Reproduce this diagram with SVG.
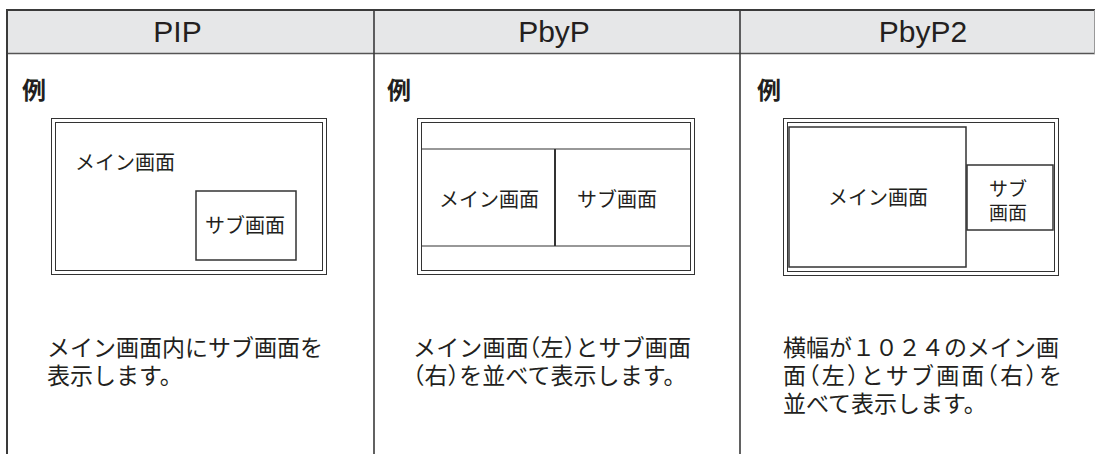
<svg xmlns="http://www.w3.org/2000/svg" width="1095" height="454" viewBox="0 0 1095 454">
<style>
.hdr{fill:#e6e7e8}
.tl{stroke:#3a3a3a;stroke-width:1.6;fill:none}
.ht{font-family:"Liberation Sans",Arial,sans-serif;font-size:30px;fill:#231f20;text-anchor:middle}
.ex{font-family:"Noto Sans CJK JP",sans-serif;font-size:24px;font-weight:bold;fill:#231f20}
.fr{stroke:#333;stroke-width:1;fill:none}
.sc{stroke:#333;stroke-width:1.5;fill:none}
.lb{font-family:"Noto Sans CJK JP",sans-serif;font-size:20px;fill:#231f20}
.ds{font-family:"Noto Sans CJK JP",sans-serif;font-size:23px;fill:#231f20;font-feature-settings:"halt" 0}
.p{font-feature-settings:"halt" 1}
.mid{text-anchor:middle}
</style>
<rect class="hdr" x="7" y="10" width="1088" height="43.5"/>
<g id="table-lines">
<line class="tl" x1="7" y1="10" x2="1095" y2="10" style="stroke-width:2"/>
<line class="tl" x1="7" y1="53.5" x2="1095" y2="53.5" style="stroke:#555"/>
<line class="tl" x1="7" y1="9" x2="7" y2="454" style="stroke-width:2"/>
<line class="tl" x1="374" y1="10" x2="374" y2="454"/>
<line class="tl" x1="740" y1="10" x2="740" y2="454"/>
<line x1="1094.5" y1="10" x2="1094.5" y2="54" stroke="#999" stroke-width="1"/>
</g>
<g id="col-pip">
<text class="ht" x="177.5" y="42">PIP</text>
<text class="ex" x="22" y="99">例</text>
<rect class="fr" x="51.5" y="118.5" width="275" height="156"/>
<rect class="fr" x="55.5" y="122.5" width="267" height="148"/>
<text class="lb" x="75" y="170">メイン画面</text>
<rect class="sc" x="196" y="191" width="100" height="69"/>
<text class="lb" x="205" y="233">サブ画面</text>
<text class="ds"><tspan x="47" y="356">メイン画面内にサブ画面を</tspan><tspan x="47" y="384">表示します。</tspan></text>
</g>
<g id="col-pbyp">
<text class="ht" x="554" y="42">PbyP</text>
<text class="ex" x="387" y="99">例</text>
<rect class="fr" x="417.5" y="118.5" width="277" height="156"/>
<rect class="fr" x="421.5" y="122.5" width="269" height="148"/>
<line class="sc" x1="421.5" y1="149" x2="690.5" y2="149" style="stroke-width:1.2"/>
<line class="sc" x1="421.5" y1="246" x2="690.5" y2="246" style="stroke-width:1.2"/>
<line class="sc" x1="555" y1="149" x2="555" y2="246" style="stroke-width:2"/>
<text class="lb mid" x="489" y="207">メイン画面</text>
<text class="lb mid" x="617" y="207">サブ画面</text>
<text class="ds p"><tspan x="413" y="356" textLength="278" lengthAdjust="spacing">メイン画面（左）とサブ画面</tspan><tspan x="413" y="384" textLength="262" lengthAdjust="spacing">（右）を並べて表示します。</tspan></text>
</g>
<g id="col-pbyp2">
<text class="ht" x="923" y="42">PbyP2</text>
<text class="ex" x="757" y="99">例</text>
<rect class="fr" x="783.5" y="118.5" width="275" height="157"/>
<rect class="fr" x="787.5" y="122.5" width="267" height="149"/>
<rect class="sc" x="789" y="127" width="177" height="140"/>
<rect class="sc" x="967" y="165" width="86" height="65"/>
<text class="lb mid" x="878" y="205">メイン画面</text>
<text class="lb mid" style="font-size:19px"><tspan x="1008" y="196">サブ</tspan><tspan x="1008" y="220">画面</tspan></text>
<text class="ds p"><tspan x="783" y="356">横幅が１０２４のメイン画</tspan><tspan x="783" y="384" textLength="279" lengthAdjust="spacing">面（左）とサブ画面（右）を</tspan><tspan x="783" y="412">並べて表示します。</tspan></text>
</g>
</svg>
